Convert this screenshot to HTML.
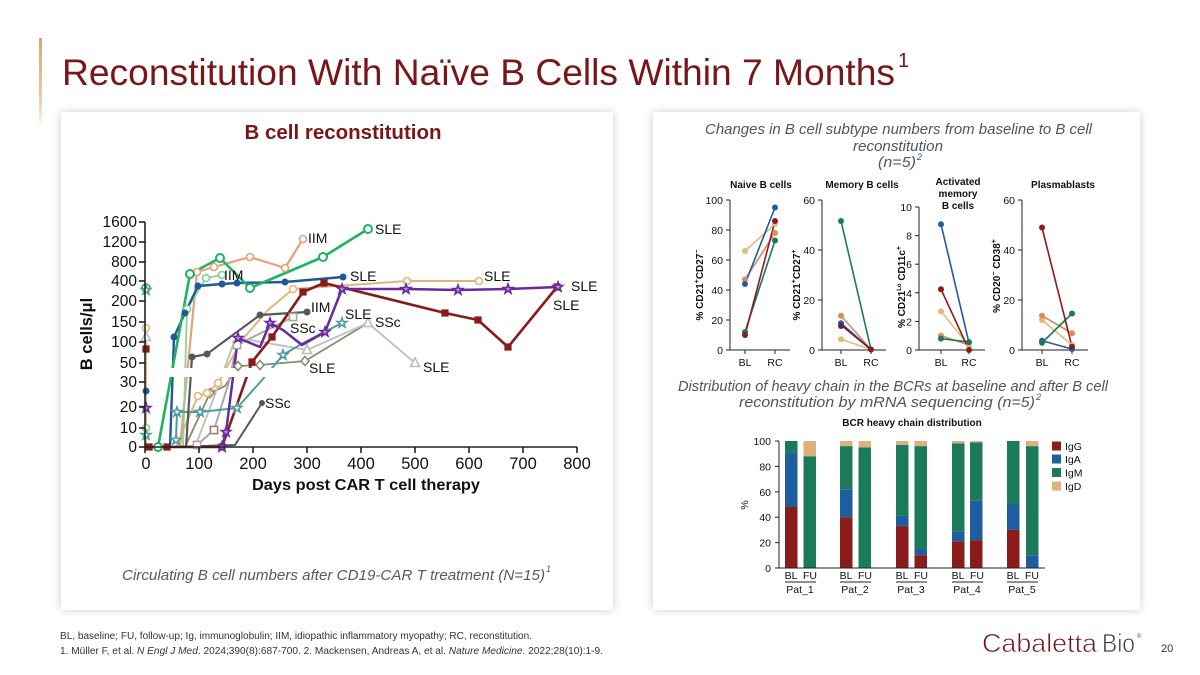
<!DOCTYPE html>
<html><head><meta charset="utf-8"><style>
html,body{margin:0;padding:0;background:#fff;}
body{width:1200px;height:675px;position:relative;overflow:hidden;font-family:"Liberation Sans",Arial,sans-serif;}
.card{position:absolute;background:#fff;box-shadow:0 0 9px rgba(0,0,0,0.2);}
.accent{position:absolute;left:39px;top:38px;width:3px;height:90px;background:linear-gradient(#d6a671,#e9cfae 70%,rgba(255,255,255,0));}
svg{position:absolute;left:0;top:0;}
</style></head><body>
<div class="accent"></div>
<div class="card" style="left:61px;top:112px;width:552px;height:498px;"></div>
<div class="card" style="left:653px;top:112px;width:487px;height:498px;"></div>
<svg width="1200" height="675" viewBox="0 0 1200 675" font-family="Liberation Sans, Arial, sans-serif">
<defs>
<path id="st" d="M0,-5 L1.18,-1.62 L4.76,-1.55 L1.9,0.62 L2.94,4.05 L0,2 L-2.94,4.05 L-1.9,0.62 L-4.76,-1.55 L-1.18,-1.62 Z"/>
<path id="tr" d="M0,-5 L4.5,3.5 L-4.5,3.5 Z"/>
<path id="dm" d="M0,-4.5 L4,0 L0,4.5 L-4,0 Z"/>
<rect id="sq" x="-3.6" y="-3.6" width="7.2" height="7.2"/>
</defs>

<!-- Title -->
<text x="62" y="85" font-size="37" fill="#7a1518" textLength="833" lengthAdjust="spacingAndGlyphs">Reconstitution With Naïve B Cells Within 7 Months</text>
<text x="898" y="67" font-size="20" fill="#7a1518">1</text>

<!-- LEFT CARD -->
<text x="343" y="139" font-size="20.5" font-weight="bold" fill="#7a1518" text-anchor="middle">B cell reconstitution</text>

<!-- series lines -->
<g fill="none" stroke-linejoin="round" stroke-linecap="round">
<polyline points="185,447 210,393 225,386 238,366 260,365 305,361 368,323" stroke="#8c8a6c" stroke-width="1.8"/>
<polyline points="197,445 214,430 228,385 237,345 293,317" stroke="#a8a8a8" stroke-width="2"/>
<polyline points="195,447 213,400 233,345 250,340 307,350 368,323 415,363" stroke="#c2c2c2" stroke-width="2"/>
<polyline points="176,447 198,396 207,393 218,383 242,340 268,310 293,289 407,281 479,281" stroke="#e2b678" stroke-width="2"/>
<polyline points="146,328 146,447" stroke="#e2b678" stroke-width="2"/>
<polyline points="180,447 197,272 214,267 250,257 285,268 303,239" stroke="#e2a27e" stroke-width="2.2"/>
<polyline points="183,447 187,309 206,278 222,275" stroke="#8fd39a" stroke-width="1.8"/>
<polyline points="176,440 177,412 200,412 237,408 262,380 283,355 303,343 342,323" stroke="#4f9c9c" stroke-width="2"/>
<polyline points="172,447 235,445 262,403" stroke="#55595d" stroke-width="2"/>
<polyline points="186,447 192,357 207,354 260,315 307,312" stroke="#55595d" stroke-width="2.2"/>
<polyline points="170,447 174,337 185,313 198,286 222,284 237,283 285,282 343,277" stroke="#1d5a9a" stroke-width="2.4"/>
<polyline points="158,447 190,274 220,258 250,288 323,257 368,229" stroke="#1fb35f" stroke-width="2.6"/>
<polyline points="149,447 167,447 222,447 252,362 272,337 303,292 324,283 445,313 478,320 508,347 557,287" stroke="#8a1919" stroke-width="2.6"/>
<polyline points="222,447 226,432 238,338 260,347 270,323 283,330 302,345 325,332 342,289 406,289 458,290 508,289 558,287" stroke="#6a2a9e" stroke-width="2.5"/>
</g>
<!-- break band -->
<rect x="148" y="368" width="450" height="9" fill="#fff"/>

<!-- markers -->
<g stroke-width="1.6">
<g fill="#fff" stroke="#8c8a6c"><use href="#dm" x="210" y="393"/><use href="#dm" x="238" y="366"/><use href="#dm" x="260" y="365"/><use href="#dm" x="305" y="361"/></g>
<g fill="#fff" stroke="#a8a8a8"><use href="#sq" x="197" y="445"/><use href="#sq" x="214" y="430" stroke="#a08070"/><use href="#sq" x="237" y="345"/><use href="#sq" x="293" y="317"/></g>
<g fill="#fff" stroke="#bdbdbd"><use href="#tr" x="368" y="323"/><use href="#tr" x="415" y="363"/><use href="#tr" x="307" y="350"/><use href="#tr" x="146" y="337"/></g>
<g fill="#fff" stroke="#e2b678"><circle cx="198" cy="396" r="3.5"/><circle cx="207" cy="393" r="3.5"/><circle cx="218" cy="383" r="3.5"/><circle cx="293" cy="289" r="3.5"/><circle cx="407" cy="281" r="3.5"/><circle cx="479" cy="281" r="3.5"/><circle cx="146" cy="328" r="3.5"/></g>
<g fill="#fff" stroke="#e2a27e"><circle cx="197" cy="272" r="3.5"/><circle cx="214" cy="267" r="3.5"/><circle cx="250" cy="257" r="3.5"/><circle cx="285" cy="268" r="3.5"/><circle cx="303" cy="239" r="3.5"/></g>
<g fill="#fff" stroke="#7fcf8f"><circle cx="187" cy="309" r="3.5"/><circle cx="206" cy="278" r="3.5"/><circle cx="222" cy="275" r="3.5"/><circle cx="146" cy="428" r="3.5"/></g>
<g fill="#fff" stroke="#4f9c9c"><use href="#st" x="176" y="440"/><use href="#st" x="177" y="412"/><use href="#st" x="200" y="412"/><use href="#st" x="237" y="408"/><use href="#st" x="283" y="355"/><use href="#st" x="342" y="323"/><use href="#st" x="146" y="435"/><circle cx="146" cy="288" r="4" stroke="#3aa07a"/><use href="#st" x="146" y="290"/></g>
<g fill="#55595d" stroke="none"><circle cx="192" cy="357" r="3.5"/><circle cx="207" cy="354" r="3.5"/><circle cx="260" cy="315" r="3.5"/><circle cx="307" cy="312" r="3.5"/><circle cx="262" cy="403" r="3"/></g>
<g fill="#1d5a9a" stroke="none"><circle cx="174" cy="337" r="3.5"/><circle cx="185" cy="313" r="3.5"/><circle cx="198" cy="286" r="3.5"/><circle cx="222" cy="284" r="3.5"/><circle cx="237" cy="283" r="3.5"/><circle cx="285" cy="282" r="3.5"/><circle cx="343" cy="277" r="3.5"/><circle cx="146" cy="391" r="3.5"/></g>
<g fill="#fff" stroke="#1fb35f" stroke-width="2"><circle cx="158" cy="447" r="4"/><circle cx="190" cy="274" r="4"/><circle cx="220" cy="258" r="4"/><circle cx="250" cy="288" r="4"/><circle cx="323" cy="257" r="4"/><circle cx="368" cy="229" r="4"/></g>
<g fill="#8a1919" stroke="none"><use href="#sq" x="149" y="447"/><use href="#sq" x="167" y="447"/><use href="#sq" x="222" y="447"/><use href="#sq" x="252" y="362"/><use href="#sq" x="272" y="337"/><use href="#sq" x="303" y="292"/><use href="#sq" x="324" y="283"/><use href="#sq" x="445" y="313"/><use href="#sq" x="478" y="320"/><use href="#sq" x="508" y="347"/><use href="#sq" x="557" y="287"/><use href="#sq" x="146" y="349"/></g>
<g fill="#b995d6" stroke="#6a2a9e"><use href="#st" x="222" y="447"/><use href="#st" x="226" y="432"/><use href="#st" x="238" y="338"/><use href="#st" x="270" y="323"/><use href="#st" x="325" y="332"/><use href="#st" x="342" y="289"/><use href="#st" x="406" y="289"/><use href="#st" x="458" y="290"/><use href="#st" x="508" y="289"/><use href="#st" x="558" y="287"/><use href="#st" x="146" y="408"/></g>
</g>

<!-- axes -->
<g stroke="#222" stroke-width="1.6" fill="none">
<line x1="145" y1="222" x2="145" y2="447"/>
<line x1="145" y1="447" x2="577" y2="447"/>
<line x1="139" y1="222" x2="145" y2="222"/><line x1="139" y1="242" x2="145" y2="242"/><line x1="139" y1="262" x2="145" y2="262"/><line x1="139" y1="281" x2="145" y2="281"/><line x1="139" y1="301" x2="145" y2="301"/><line x1="139" y1="322" x2="145" y2="322"/><line x1="139" y1="342" x2="145" y2="342"/><line x1="139" y1="363" x2="145" y2="363"/><line x1="139" y1="382" x2="145" y2="382"/><line x1="139" y1="407" x2="145" y2="407"/><line x1="139" y1="428" x2="145" y2="428"/><line x1="139" y1="447" x2="145" y2="447"/>
<line x1="145" y1="447" x2="145" y2="453"/><line x1="199" y1="447" x2="199" y2="453"/><line x1="253" y1="447" x2="253" y2="453"/><line x1="307" y1="447" x2="307" y2="453"/><line x1="361" y1="447" x2="361" y2="453"/><line x1="415" y1="447" x2="415" y2="453"/><line x1="469" y1="447" x2="469" y2="453"/><line x1="523" y1="447" x2="523" y2="453"/><line x1="577" y1="447" x2="577" y2="453"/>
</g>
<g font-size="15.5" fill="#111" text-anchor="end">
<text x="137" y="227">1600</text><text x="137" y="247">1200</text><text x="137" y="267">800</text><text x="137" y="286">400</text><text x="137" y="306">200</text><text x="137" y="327">150</text><text x="137" y="347">100</text><text x="137" y="368">50</text><text x="137" y="387">30</text><text x="137" y="412">20</text><text x="137" y="433">10</text><text x="137" y="452">0</text>
</g>
<g font-size="16.5" fill="#111" text-anchor="middle">
<text x="146" y="469">0</text><text x="199" y="469">100</text><text x="253" y="469">200</text><text x="307" y="469">300</text><text x="361" y="469">400</text><text x="415" y="469">500</text><text x="469" y="469">600</text><text x="523" y="469">700</text><text x="577" y="469">800</text>
</g>
<text x="366" y="490" font-size="16" font-weight="bold" fill="#111" text-anchor="middle" textLength="228" lengthAdjust="spacingAndGlyphs">Days post CAR T cell therapy</text>
<text transform="translate(92,334) rotate(-90)" font-size="16.5" font-weight="bold" fill="#111" text-anchor="middle">B cells/μl</text>

<g font-size="14" fill="#111">
<text x="375" y="234">SLE</text><text x="308" y="243">IIM</text><text x="224" y="280">IIM</text><text x="350" y="281">SLE</text><text x="484" y="281">SLE</text><text x="571" y="291">SLE</text><text x="553" y="310">SLE</text><text x="311" y="312">IIM</text><text x="345" y="319">SLE</text><text x="375" y="327">SSc</text><text x="290" y="333">SSc</text><text x="309" y="373">SLE</text><text x="423" y="372">SLE</text><text x="265" y="408">SSc</text>
</g>

<text x="122" y="580" font-size="14.5" font-style="italic" fill="#525b68" textLength="423" lengthAdjust="spacingAndGlyphs">Circulating B cell numbers after CD19-CAR T treatment (N=15)</text>
<text x="546" y="572" font-size="9" font-style="italic" fill="#525b68">1</text>

<!-- RIGHT CARD -->
<g font-size="15" font-style="italic" fill="#4d5563">
<text x="705" y="134" textLength="387" lengthAdjust="spacingAndGlyphs">Changes in B cell subtype numbers from baseline to B cell</text>
<text x="853" y="151" textLength="90" lengthAdjust="spacingAndGlyphs">reconstitution</text>
<text x="878" y="167" textLength="38" lengthAdjust="spacingAndGlyphs">(n=5)</text>
<text x="678" y="391" textLength="430" lengthAdjust="spacingAndGlyphs">Distribution of heavy chain in the BCRs at baseline and after B cell</text>
<text x="739" y="407" textLength="296" lengthAdjust="spacingAndGlyphs">reconstitution by mRNA sequencing (n=5)</text>
</g>
<text x="917" y="160" font-size="9" font-style="italic" fill="#4d5563">2</text>
<text x="1036" y="400" font-size="9" font-style="italic" fill="#4d5563">2</text>

<!-- small multiples titles -->
<g font-size="10" font-weight="bold" fill="#111" text-anchor="middle">
<text x="761" y="188">Naive B cells</text>
<text x="862" y="188">Memory B cells</text>
<text x="958" y="185">Activated</text><text x="958" y="197">memory</text><text x="958" y="209">B cells</text>
<text x="1063" y="188">Plasmablasts</text>
</g>

<!-- small multiples axes -->
<g stroke="#222" stroke-width="1" fill="none">
<line x1="730" y1="200" x2="730" y2="350"/><line x1="730" y1="350" x2="790" y2="350"/>
<line x1="726" y1="200" x2="730" y2="200"/><line x1="726" y1="230" x2="730" y2="230"/><line x1="726" y1="260" x2="730" y2="260"/><line x1="726" y1="290" x2="730" y2="290"/><line x1="726" y1="320" x2="730" y2="320"/><line x1="726" y1="350" x2="730" y2="350"/>
<line x1="745" y1="350" x2="745" y2="354"/><line x1="775" y1="350" x2="775" y2="354"/>
<line x1="822" y1="200" x2="822" y2="350"/><line x1="822" y1="350" x2="886" y2="350"/>
<line x1="818" y1="200" x2="822" y2="200"/><line x1="818" y1="250" x2="822" y2="250"/><line x1="818" y1="300" x2="822" y2="300"/><line x1="818" y1="350" x2="822" y2="350"/>
<line x1="841" y1="350" x2="841" y2="354"/><line x1="871" y1="350" x2="871" y2="354"/>
<line x1="919" y1="207" x2="919" y2="350"/><line x1="919" y1="350" x2="985" y2="350"/>
<line x1="915" y1="207" x2="919" y2="207"/><line x1="915" y1="235.6" x2="919" y2="235.6"/><line x1="915" y1="264.2" x2="919" y2="264.2"/><line x1="915" y1="292.8" x2="919" y2="292.8"/><line x1="915" y1="321.4" x2="919" y2="321.4"/><line x1="915" y1="350" x2="919" y2="350"/>
<line x1="941" y1="350" x2="941" y2="354"/><line x1="969" y1="350" x2="969" y2="354"/>
<line x1="1022" y1="200" x2="1022" y2="350"/><line x1="1022" y1="350" x2="1088" y2="350"/>
<line x1="1018" y1="200" x2="1022" y2="200"/><line x1="1018" y1="250" x2="1022" y2="250"/><line x1="1018" y1="300" x2="1022" y2="300"/><line x1="1018" y1="350" x2="1022" y2="350"/>
<line x1="1042" y1="350" x2="1042" y2="354"/><line x1="1072" y1="350" x2="1072" y2="354"/>
</g>
<g font-size="10.5" fill="#111" text-anchor="end">
<text x="723" y="204">100</text><text x="723" y="234">80</text><text x="723" y="264">60</text><text x="723" y="294">40</text><text x="723" y="324">20</text><text x="723" y="354">0</text>
<text x="815" y="204">60</text><text x="815" y="254">40</text><text x="815" y="304">20</text><text x="815" y="354">0</text>
<text x="912" y="211">10</text><text x="912" y="239.6">8</text><text x="912" y="268.2">6</text><text x="912" y="296.8">4</text><text x="912" y="325.4">2</text><text x="912" y="354">0</text>
<text x="1015" y="204">60</text><text x="1015" y="254">40</text><text x="1015" y="304">20</text><text x="1015" y="354">0</text>
</g>
<g font-size="10.5" fill="#111" text-anchor="middle">
<text x="745" y="366">BL</text><text x="775" y="366">RC</text>
<text x="841" y="366">BL</text><text x="871" y="366">RC</text>
<text x="941" y="366">BL</text><text x="969" y="366">RC</text>
<text x="1042" y="366">BL</text><text x="1072" y="366">RC</text>
</g>
<g font-size="10" font-weight="bold" fill="#111" text-anchor="middle">
<text transform="translate(703,285) rotate(-90)">% CD21<tspan font-size="7" dy="-4">+</tspan><tspan dy="4">CD27</tspan><tspan font-size="7" dy="-4">−</tspan></text>
<text transform="translate(800,285) rotate(-90)">% CD21<tspan font-size="7" dy="-4">+</tspan><tspan dy="4">CD27</tspan><tspan font-size="7" dy="-4">+</tspan></text>
<text transform="translate(905,287) rotate(-90)">% CD21<tspan font-size="6" dy="-4">Lo</tspan><tspan dy="4"> CD11c</tspan><tspan font-size="7" dy="-4">+</tspan></text>
<text transform="translate(1000,276) rotate(-90)">% CD20<tspan font-size="7" dy="-4">−</tspan><tspan dy="4"> CD38</tspan><tspan font-size="7" dy="-4">+</tspan></text>
</g>

<!-- small multiples data -->
<g stroke-width="1.6" fill="none">
<line x1="745" y1="251" x2="775" y2="224" stroke="#e2b97f"/>
<line x1="745" y1="279.5" x2="775" y2="233" stroke="#d98a5e"/>
<line x1="745" y1="284" x2="775" y2="207.5" stroke="#1f5e9e"/>
<line x1="745" y1="332" x2="775" y2="240.5" stroke="#1b7a5c"/>
<line x1="745" y1="335" x2="775" y2="221" stroke="#8b1c1c"/>
<line x1="841" y1="339.25" x2="871" y2="349.5" stroke="#e2b97f"/>
<line x1="841" y1="315.75" x2="871" y2="349.5" stroke="#d98a5e"/>
<line x1="841" y1="323.25" x2="871" y2="349.5" stroke="#1f5e9e"/>
<line x1="841" y1="325" x2="871" y2="349.5" stroke="#6a2040"/>
<line x1="841" y1="221" x2="871" y2="349.5" stroke="#1b7a5c"/>
<line x1="941" y1="311.4" x2="969" y2="345.7" stroke="#e2b97f"/>
<line x1="941" y1="335.7" x2="969" y2="345" stroke="#d98a5e"/>
<line x1="941" y1="338.6" x2="969" y2="342.1" stroke="#1b7a5c"/>
<line x1="941" y1="224.2" x2="969" y2="342.9" stroke="#1f5e9e"/>
<line x1="941" y1="289.2" x2="969" y2="350" stroke="#8b1c1c"/>
<line x1="1042" y1="320" x2="1072" y2="345" stroke="#e2b97f"/>
<line x1="1042" y1="315.75" x2="1072" y2="333.25" stroke="#d98a5e"/>
<line x1="1042" y1="340.75" x2="1072" y2="349" stroke="#1f5e9e"/>
<line x1="1042" y1="342.75" x2="1072" y2="313.5" stroke="#1b7a5c"/>
<line x1="1042" y1="227.5" x2="1072" y2="346.75" stroke="#8b1c1c"/>
</g>
<g>
<circle cx="745" cy="251" r="3" fill="#e2b97f"/><circle cx="775" cy="224" r="3" fill="#e2b97f"/>
<circle cx="745" cy="279.5" r="3" fill="#d98a5e"/><circle cx="775" cy="233" r="3" fill="#d98a5e"/>
<circle cx="745" cy="284" r="3" fill="#1f5e9e"/><circle cx="775" cy="207.5" r="3" fill="#1f5e9e"/>
<circle cx="745" cy="332" r="3" fill="#1b7a5c"/><circle cx="775" cy="240.5" r="3" fill="#1b7a5c"/>
<circle cx="745" cy="335" r="3" fill="#8b1c1c"/><circle cx="775" cy="221" r="3" fill="#8b1c1c"/>
<circle cx="841" cy="339.25" r="3" fill="#e2b97f"/><circle cx="841" cy="315.75" r="3" fill="#d98a5e"/><circle cx="841" cy="323.25" r="3" fill="#1f5e9e"/><circle cx="841" cy="326" r="3" fill="#6a2040"/><circle cx="841" cy="221" r="3" fill="#1b7a5c"/><circle cx="871" cy="349.5" r="3" fill="#8b1c1c"/>
<circle cx="941" cy="311.4" r="3" fill="#e2b97f"/><circle cx="941" cy="335.7" r="3" fill="#d98a5e"/><circle cx="941" cy="338.6" r="3" fill="#1b7a5c"/><circle cx="941" cy="224.2" r="3" fill="#1f5e9e"/><circle cx="941" cy="289.2" r="3" fill="#8b1c1c"/>
<circle cx="969" cy="345.7" r="3" fill="#e2b97f"/><circle cx="969" cy="342.1" r="3" fill="#1b7a5c"/><circle cx="969" cy="350" r="3" fill="#8b1c1c"/>
<circle cx="1042" cy="320" r="3" fill="#e2b97f"/><circle cx="1042" cy="315.75" r="3" fill="#d98a5e"/><circle cx="1042" cy="340.75" r="3" fill="#1f5e9e"/><circle cx="1042" cy="342.75" r="3" fill="#1b7a5c"/><circle cx="1042" cy="227.5" r="3" fill="#8b1c1c"/>
<circle cx="1072" cy="345" r="3" fill="#e2b97f"/><circle cx="1072" cy="333.25" r="3" fill="#d98a5e"/><circle cx="1072" cy="313.5" r="3" fill="#1b7a5c"/><circle cx="1072" cy="349" r="3" fill="#1f5e9e"/><circle cx="1072" cy="346.75" r="3" fill="#8b1c1c"/>
</g>

<!-- bar chart -->
<text x="912" y="426" font-size="10" font-weight="bold" fill="#111" text-anchor="middle">BCR heavy chain distribution</text>
<g>
<rect x="785" y="507" width="12.5" height="61" fill="#8b1c1c"/><rect x="785" y="452.4" width="12.5" height="54.6" fill="#1f5e9e"/><rect x="785" y="441" width="12.5" height="11.4" fill="#1b7a5c"/>
<rect x="803.5" y="456.2" width="12.5" height="111.8" fill="#1b7a5c"/><rect x="803.5" y="441" width="12.5" height="15.2" fill="#dcb27c"/>
<rect x="840" y="517.2" width="12.5" height="50.8" fill="#8b1c1c"/><rect x="840" y="489.3" width="12.5" height="27.9" fill="#1f5e9e"/><rect x="840" y="446.1" width="12.5" height="43.2" fill="#1b7a5c"/><rect x="840" y="441" width="12.5" height="5.1" fill="#dcb27c"/>
<rect x="858.5" y="447.35" width="12.5" height="120.65" fill="#1b7a5c"/><rect x="858.5" y="441" width="12.5" height="6.35" fill="#dcb27c"/>
<rect x="896" y="526.1" width="12.5" height="41.9" fill="#8b1c1c"/><rect x="896" y="515.9" width="12.5" height="10.2" fill="#1f5e9e"/><rect x="896" y="444.8" width="12.5" height="71.1" fill="#1b7a5c"/><rect x="896" y="441" width="12.5" height="3.8" fill="#dcb27c"/>
<rect x="914.5" y="555.3" width="12.5" height="12.7" fill="#8b1c1c"/><rect x="914.5" y="548.95" width="12.5" height="6.35" fill="#1f5e9e"/><rect x="914.5" y="446.1" width="12.5" height="102.85" fill="#1b7a5c"/><rect x="914.5" y="441" width="12.5" height="5.1" fill="#dcb27c"/>
<rect x="952" y="541.3" width="12.5" height="26.7" fill="#8b1c1c"/><rect x="952" y="531.2" width="12.5" height="10.1" fill="#1f5e9e"/><rect x="952" y="443.5" width="12.5" height="87.7" fill="#1b7a5c"/><rect x="952" y="441" width="12.5" height="2.5" fill="#dcb27c"/>
<rect x="970" y="540.1" width="12.5" height="27.9" fill="#8b1c1c"/><rect x="970" y="500.7" width="12.5" height="39.4" fill="#1f5e9e"/><rect x="970" y="442.3" width="12.5" height="58.4" fill="#1b7a5c"/><rect x="970" y="441" width="12.5" height="1.3" fill="#dcb27c"/>
<rect x="1007" y="529.9" width="12.5" height="38.1" fill="#8b1c1c"/><rect x="1007" y="504.5" width="12.5" height="25.4" fill="#1f5e9e"/><rect x="1007" y="441" width="12.5" height="63.5" fill="#1b7a5c"/>
<rect x="1026" y="555.3" width="12.5" height="12.7" fill="#1f5e9e"/><rect x="1026" y="446.1" width="12.5" height="109.2" fill="#1b7a5c"/><rect x="1026" y="441" width="12.5" height="5.1" fill="#dcb27c"/>
</g>
<g stroke="#222" stroke-width="1" fill="none">
<line x1="779" y1="441" x2="779" y2="568"/><line x1="779" y1="568" x2="1045" y2="568"/>
<line x1="775" y1="441" x2="779" y2="441"/><line x1="775" y1="466.4" x2="779" y2="466.4"/><line x1="775" y1="491.8" x2="779" y2="491.8"/><line x1="775" y1="517.2" x2="779" y2="517.2"/><line x1="775" y1="542.6" x2="779" y2="542.6"/><line x1="775" y1="568" x2="779" y2="568"/>
<line x1="785" y1="582" x2="816" y2="582"/><line x1="840" y1="582" x2="871" y2="582"/><line x1="896" y1="582" x2="927" y2="582"/><line x1="952" y1="582" x2="983" y2="582"/><line x1="1007" y1="582" x2="1038" y2="582"/>
</g>
<g font-size="10.5" fill="#111" text-anchor="end">
<text x="771" y="445">100</text><text x="771" y="470.4">80</text><text x="771" y="495.8">60</text><text x="771" y="521.2">40</text><text x="771" y="546.6">20</text><text x="771" y="572">0</text>
</g>
<text transform="translate(748,505) rotate(-90)" font-size="10.5" fill="#111" text-anchor="middle">%</text>
<g font-size="10.5" fill="#111" text-anchor="middle">
<text x="791" y="579">BL</text><text x="810" y="579">FU</text><text x="800" y="593">Pat_1</text>
<text x="846" y="579">BL</text><text x="865" y="579">FU</text><text x="855" y="593">Pat_2</text>
<text x="902" y="579">BL</text><text x="921" y="579">FU</text><text x="911" y="593">Pat_3</text>
<text x="958" y="579">BL</text><text x="977" y="579">FU</text><text x="967" y="593">Pat_4</text>
<text x="1013" y="579">BL</text><text x="1032" y="579">FU</text><text x="1022" y="593">Pat_5</text>
</g>
<rect x="1052" y="441.5" width="9" height="9" fill="#8b1c1c"/>
<rect x="1052" y="454.5" width="9" height="9" fill="#1f5e9e"/>
<rect x="1052" y="468" width="9" height="9" fill="#1b7a5c"/>
<rect x="1052" y="481.5" width="9" height="9" fill="#dcb27c"/>
<g font-size="10.5" fill="#111">
<text x="1065" y="450">IgG</text><text x="1065" y="463">IgA</text><text x="1065" y="476.5">IgM</text><text x="1065" y="490">IgD</text>
</g>

<!-- footer -->
<text x="60" y="639" font-size="9.8" fill="#333" textLength="472" lengthAdjust="spacingAndGlyphs">BL, baseline; FU, follow-up; Ig, immunoglobulin; IIM, idiopathic inflammatory myopathy; RC, reconstitution.</text>
<text x="60" y="654" font-size="9.8" fill="#333" textLength="543" lengthAdjust="spacingAndGlyphs">1. Müller F, et al. <tspan font-style="italic">N Engl J Med</tspan>. 2024;390(8):687-700. 2. Mackensen, Andreas A, et al. <tspan font-style="italic">Nature Medicine</tspan>. 2022;28(10):1-9.</text>
<text x="982" y="652" font-size="26" fill="#6e1522" stroke="#fff" stroke-width="0.7" textLength="115" lengthAdjust="spacingAndGlyphs">Cabaletta</text>
<text x="1102" y="652" font-size="26" fill="#3a3a3a" stroke="#fff" stroke-width="0.7" textLength="33" lengthAdjust="spacingAndGlyphs">Bio</text>
<text x="1137" y="638" font-size="6" fill="#555">®</text>
<text x="1161" y="652" font-size="11" fill="#333">20</text>
</svg>
</body></html>
